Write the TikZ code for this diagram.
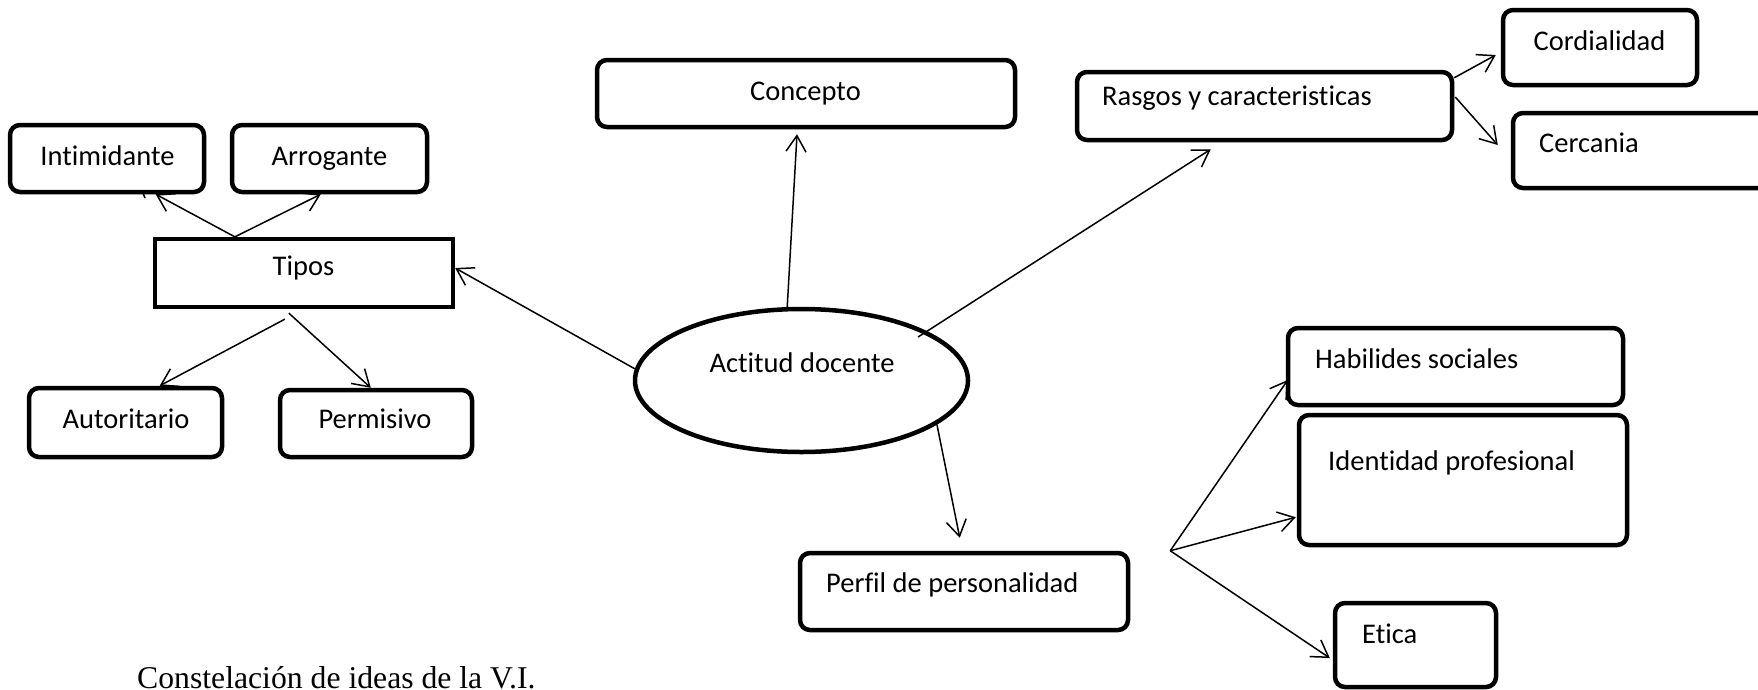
\documentclass[tikz,border=0pt]{standalone}
\usepackage{fontspec}
\setmainfont{Carlito}[Ligatures={NoCommon,NoRequired,NoContextual}]
\newfontfamily\capfont{Liberation Serif}
\usetikzlibrary{arrows.meta,shapes.geometric}
\tikzset{
  box/.style={draw, line width=4.5pt, rounded corners=10pt, inner sep=0pt},
  sqbox/.style={draw, line width=4.3pt, inner sep=0pt},
  ellbox/.style={draw, ellipse, line width=4.5pt, inner sep=0pt},
  lbl/.style={font=\fontsize{28.5}{34}\selectfont, inner sep=0pt},
  conn/.style={line width=1.5pt, -{Straight Barb[length=16pt,width=20pt]}},
  plain/.style={line width=1.5pt},
}
\begin{document}
\begin{tikzpicture}[x=1pt,y=-1pt]
\useasboundingbox (0,0) rectangle (1758,689);
\fill[white] (0,0) rectangle (1758,689);

% boxes
\node[box, minimum width=194pt, minimum height=67pt] (intim) at (107,158.5) {};
\node[box, minimum width=195pt, minimum height=67pt] (arrog) at (329.5,158.5) {};
\node[sqbox, minimum width=298pt, minimum height=68pt] (tipos) at (304,273) {};
\node[box, minimum width=193pt, minimum height=69pt] (autor) at (125.5,422.5) {};
\node[box, minimum width=192pt, minimum height=67pt] (permis) at (376,423.5) {};
\node[box, minimum width=418pt, minimum height=67pt] (concepto) at (806,93.5) {};
\node[ellbox, minimum width=333pt, minimum height=143pt] (ell) at (801.5,380.5) {};
\node[box, minimum width=375pt, minimum height=68pt] (rasgos) at (1264.5,106) {};
\node[box, minimum width=194pt, minimum height=75pt] (cord) at (1600,47.5) {};
\node[box, minimum width=262pt, minimum height=75pt] (cerc) at (1644,150.5) {};
\node[box, minimum width=335pt, minimum height=77pt] (habil) at (1455.5,366.5) {};
\node[box, minimum width=328pt, minimum height=130pt] (ident) at (1463,480) {};
\node[box, minimum width=161pt, minimum height=84pt] (etica) at (1415.5,645) {};
\node[box, minimum width=328pt, minimum height=77pt] (perfil) at (964,591.5) {};

% labels
\node[lbl, anchor=mid] (intim-t) at (107.5,163.5) {Intimidante};
\node[lbl, anchor=mid] (arrog-t) at (329.5,163.5) {Arrogante};
\node[lbl, anchor=mid] (tipos-t) at (303.5,273.5) {Tipos};
\node[lbl, anchor=mid] (autor-t) at (126,426.5) {Autoritario};
\node[lbl, anchor=mid] (permis-t) at (375,426.5) {Permisivo};
\node[lbl, anchor=mid] (concepto-t) at (805.5,98.5) {Concepto};
\node[lbl, anchor=mid] (ell-t) at (802,370.5) {Actitud docente};
\node[lbl, anchor=mid west] (rasgos-t) at (1102,103.5) {Rasgos y caracteristicas};
\node[lbl, anchor=mid] (cord-t) at (1599.5,48.5) {Cordialidad};
\node[lbl, anchor=mid west] (cerc-t) at (1539,150.5) {Cercania};
\node[lbl, anchor=mid west] (habil-t) at (1315,366.5) {Habilides sociales};
\node[lbl, anchor=mid west] (ident-t) at (1328,468.5) {Identidad profesional};
\node[lbl, anchor=mid west] (etica-t) at (1362,641.5) {Etica};
\node[lbl, anchor=mid west] (perfil-t) at (826,590.5) {Perfil de personalidad};

\node[anchor=base west, inner sep=0pt, font=\capfont\fontsize{31.7}{38}\selectfont] (cap) at (137,688.5) {Constelación de ideas de la V.I.};

% connector end points
\coordinate (tipos-top) at ([xshift=82pt]tipos.north west);
\coordinate (tipos-b1) at ([xshift=132pt,yshift=-10pt]tipos.south west);
\coordinate (tipos-b2) at ([xshift=136pt,yshift=-4pt]tipos.south west);
\coordinate (ell-r) at ([xshift=116.5pt,yshift=43.5pt]ell.center);
\coordinate (br) at ([xshift=40pt]perfil.north east);
\coordinate (tick-a) at (143,193);
\coordinate (tick-b) at (145,198);

% connectors
\draw[conn] (tipos-top) -- ([xshift=148pt]intim.south west);
\draw[conn] (tipos-top) -- ([xshift=91pt]arrog.south west);
\draw[plain] (tick-a) -- (tick-b);
\draw[conn] (tipos-b1) -- ([xshift=133pt]autor.north west);
\draw[conn] (tipos-b2) -- ([xshift=93pt]permis.north west);
\draw[conn] (ell.176) -- ([yshift=5pt]tipos.east);
\draw[conn] (ell.101) -- ([xshift=-9pt,yshift=-5pt]concepto.south);
\draw[conn] (ell-r) -- ([xshift=136pt,yshift=-7pt]rasgos.south west);
\draw[conn] (ell.-18) -- ([xshift=162pt,yshift=13pt]perfil.north west);
\draw[conn] ([yshift=-8pt]rasgos.north east) -- ([xshift=-5pt,yshift=-7.5pt]cord.west);
\draw[conn] ([xshift=1pt,yshift=9pt]rasgos.east) -- ([xshift=-13pt,yshift=5.5pt]cerc.west);
\draw[conn] (br) -- ([xshift=2pt,yshift=-13.5pt]habil.west);
\draw[conn] (br) -- ([xshift=-1pt,yshift=30pt]ident.south west);
\draw[conn] (br) -- ([xshift=-3pt,yshift=-13pt]etica.west);
\end{tikzpicture}
\end{document}
